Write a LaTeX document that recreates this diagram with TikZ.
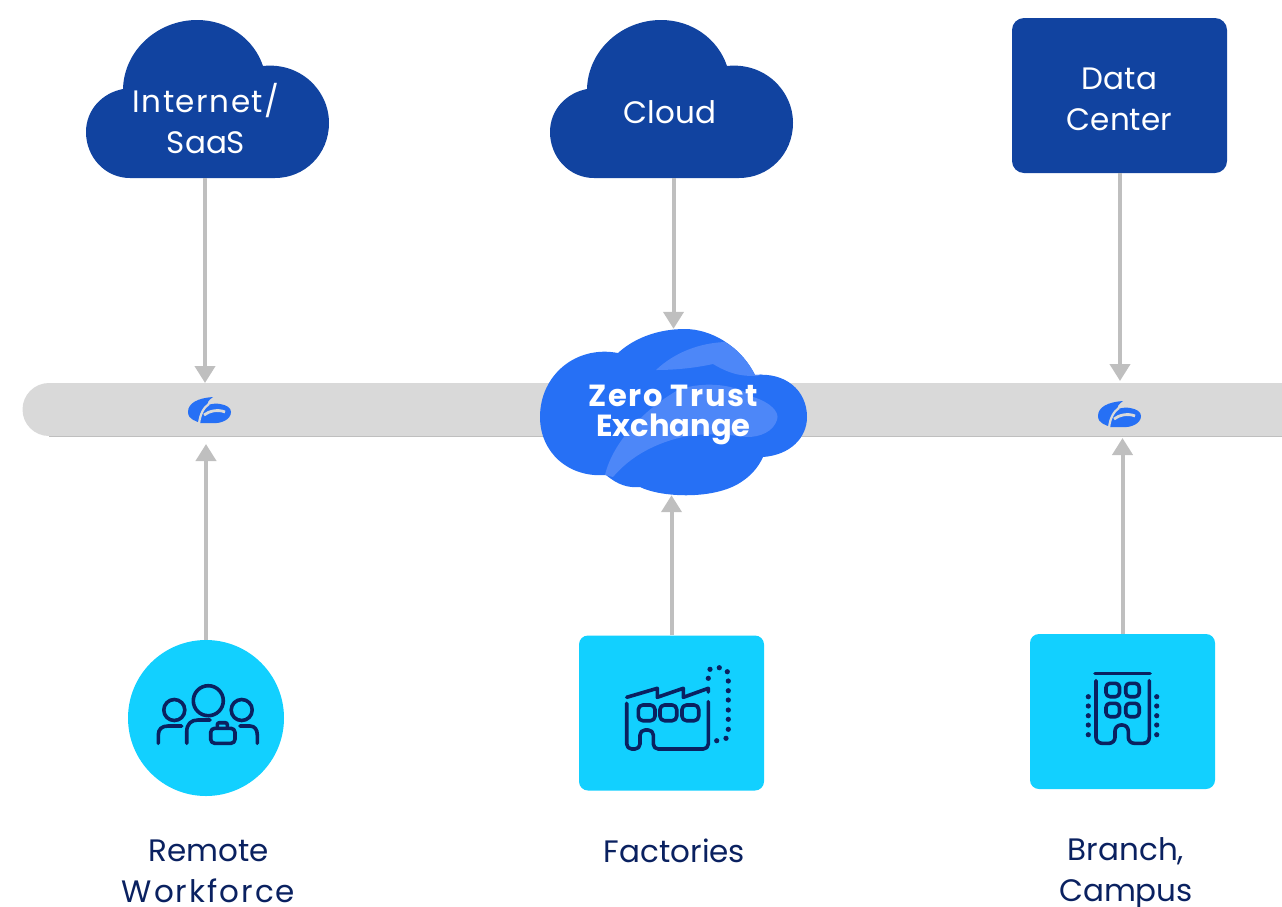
\documentclass[tikz,border=0pt]{standalone}
\usepackage{fontspec}
\setmainfont{Poppins}
\usetikzlibrary{arrows.meta}

\definecolor{skynavy}{HTML}{1143A0}
\definecolor{sitecyan}{HTML}{12D0FF}
\definecolor{hubblue}{HTML}{2670F5}
\definecolor{hublight}{HTML}{4D87F8}
\definecolor{bandgray}{HTML}{D9D9D9}
\definecolor{flowgray}{HTML}{BFBFBF}
\definecolor{inkblue}{HTML}{0A2160}

\tikzset{
    flowline/.style = {line width = 4pt, draw = flowgray, -{Triangle[width = 20pt, length = 17pt]}},
    skylabel/.style = {text = white, font = \fontsize{31}{41}\selectfont, align = center, inner sep = 0pt},
    sitelabel/.style = {text = inkblue, font = \fontsize{31}{41}\selectfont, align = center, inner sep = 0pt},
    sitebox/.style = {fill = sitecyan, rounded corners = 9pt, minimum width = 185pt, minimum height = 155pt, inner sep = 0pt},
    iconline/.style = {draw = inkblue, line width = 3.6pt, line cap = round, line join = round}
}

% Outline of the dark clouds, in the place of the left one
\newcommand{\skycloud}[1]{
    \fill[skynavy, shift = {(#1, 0)}] (130, 178) .. controls (105, 178) and (86, 157) .. (86, 132)
    .. controls (86, 110) and (102, 93) .. (123, 89) .. controls (124, 50) and (158, 20) .. (197, 20)
    .. controls (228, 20) and (254, 39) .. (263, 66) .. controls (300, 62) and (329, 90) .. (329, 123)
    .. controls (329, 154) and (305, 178) .. (275, 178) -- cycle;
}

% Small logo on the band
\newcommand{\hublogo}[2]{
    \begin{scope}[shift = {(#1, #2)}]
        \fill[hubblue] (-10, 12) .. controls (-13, 10) and (-22, 9) .. (-22, 1)
        .. controls (-22, -8) and (-12, -13) .. (3, -14) .. controls (-1, -11) and (-3, -9) .. (-3, -6)
        .. controls (2, -7) and (6, -8) .. (10, -7) .. controls (17, -6) and (21, -3) .. (21, 1)
        .. controls (21, 9) and (10, 13) .. (2, 12) -- cycle;
        \draw[bandgray, line width = 2.2pt] (-1, -7) .. controls (-6, -4) and (-10, 3) .. (-11, 13);
        \draw[bandgray, line width = 2.8pt] (-6, 4) .. controls (-1, 0) and (8, -2) .. (15, 1);
    \end{scope}
}

\newcommand{\zerocloud}{
    (618, 353) .. controls (576, 345) and (540, 375) .. (540, 417)
    .. controls (540, 452) and (568, 478) .. (606, 475) .. controls (618, 485) and (628, 488) .. (640, 487)
    .. controls (660, 497) and (710, 500) .. (738, 484) .. controls (750, 477) and (758, 468) .. (763, 457)
    .. controls (790, 455) and (807, 438) .. (807, 417) .. controls (807, 390) and (785, 372) .. (755, 375)
    .. controls (740, 345) and (710, 329) .. (685, 329) .. controls (655, 329) and (632, 340) .. (618, 353) -- cycle
}

\begin{document}
\begin{tikzpicture}[x = 1pt, y = -1pt]
    \useasboundingbox (0, 0) rectangle (1282, 906);

    % === Band ===
    \fill[bandgray] (1330, 383) -- (49, 383) arc (90: 270: 26.5pt) -- (1330, 436) -- cycle;
    \draw[flowgray, line width = 0.6pt] (49, 436) -- (1282, 436);

    % === Upper row ===
    \skycloud{0}
    \node[skylabel, minimum height = 118pt] (internet) at (206, 119)
    {\addfontfeature{LetterSpace = 5}Internet/\\SaaS};

    \skycloud{464}
    \node[skylabel, minimum height = 132pt] (cloud) at (670, 112) {Cloud};

    \node[fill = skynavy, rounded corners = 12pt, minimum width = 215pt, minimum height = 155pt, inner sep = 0pt]
    (datacenter) at (1119.5, 95.5) {};
    \node[skylabel] (datacenterlabel) at (1119.5, 99.5) {Data\\Center};

    % === Zero Trust Exchange ===
    \fill[hubblue] \zerocloud;
    \begin{scope}
        \clip \zerocloud;
        \fill[hublight] (656, 370) .. controls (675, 352) and (700, 343) .. (725, 342) -- (770, 372)
        -- (757, 376) .. controls (745, 376) and (733, 376) .. (713, 364) .. controls (695, 368) and (675, 370) .. (656, 370) -- cycle;
        \fill[hublight] (605, 475) .. controls (612, 445) and (640, 412) .. (678, 390)
        .. controls (705, 380) and (738, 385) .. (753, 397) .. controls (770, 402) and (780, 412) .. (777, 420)
        .. controls (773, 432) and (760, 437) .. (747, 437) .. controls (715, 433) and (690, 432) .. (660, 444)
        .. controls (640, 452) and (625, 463) .. (613, 477) -- cycle;
    \end{scope}
    \node[text = white, font = \fontsize{30.5}{30}\bfseries\selectfont, align = center, inner sep = 0pt,
    minimum width = 266pt, minimum height = 160pt] (zerotrust) at (673.5, 415)
    {{\addfontfeature{LetterSpace = 5}Zero Trust}\\Exchange};

    % === Logos on the band ===
    \node[minimum width = 44pt, minimum height = 27pt, inner sep = 0pt] (hubleft) at (210, 411) {};
    \hublogo{210}{411}
    \node[minimum width = 44pt, minimum height = 27pt, inner sep = 0pt] (hubright) at (1120, 415) {};
    \hublogo{1120}{415}

    % === Lower row ===
    \node[circle, fill = sitecyan, minimum size = 156pt, inner sep = 0pt] (remote) at (206, 718) {};
    \node[sitebox] (factories) at (671.5, 713) {};
    \node[sitebox] (branch) at (1122.5, 711.5) {};

    \node[sitelabel] (remotelabel) at (208.5, 871.5) {Remote\\{\addfontfeature{LetterSpace = 6.5}Workforce}};
    \node[sitelabel] (factorieslabel) at (674.5, 851) {Factories};
    \node[sitelabel] (branchlabel) at (1126, 874) {Branch,\\Campus};

    % === Arrows ===
    \coordinate (tipinternet) at (205, 383);
    \coordinate (tipdata) at (1120, 381);
    \coordinate (tipremote) at (206, 444);
    \coordinate (tipbranch) at (1122.5, 438);
    \draw[flowline] (tipinternet |- internet.south) -- (tipinternet);
    \draw[flowline] (cloud.south -| zerotrust.north) -- ([yshift = 6pt]zerotrust.north);
    \draw[flowline] (datacenter.south -| tipdata) -- (tipdata);
    \draw[flowline] (remote.north) -- (tipremote);
    \draw[flowline] (factories.north) -- (zerotrust.south -| factories.north);
    \draw[flowline] (branch.north) -- (tipbranch);

    % === Icons ===
    % People
    \draw[iconline] (208.3, 700.7) circle[radius = 15pt];
    \draw[iconline] (174.3, 710) circle[radius = 10.5pt];
    \draw[iconline] (241.7, 710) circle[radius = 10.5pt];
    \draw[iconline] (158.3, 743.3) -- (158.3, 735) .. controls (158.3, 729) and (162, 726) .. (168, 726) -- (181.7, 726);
    \draw[iconline] (186.7, 743.3) -- (186.7, 732) .. controls (186.7, 724) and (191, 720) .. (198, 720) -- (210, 720);
    \draw[iconline] (240, 726) -- (250, 726) .. controls (255, 726) and (257.3, 730) .. (257.3, 735) -- (257.3, 743.3);
    \draw[iconline, rounded corners = 4pt] (210.7, 728.3) rectangle (235, 743.3);
    \draw[iconline, rounded corners = 2pt] (217.3, 728) -- (217.3, 722.7) -- (227.3, 722.7) -- (227.3, 728);

    % Factory
    \draw[iconline] (626.7, 697.3) -- (657.3, 688.3) -- (657.3, 697.3) -- (683.3, 688.3) -- (683.3, 697.3)
    -- (708.3, 688.3) -- (708.3, 692);
    \draw[iconline, rounded corners = 5pt] (626.7, 703.3) -- (626.7, 749) -- (640, 749) -- (640, 730)
    -- (653.3, 730) -- (653.3, 749) -- (708.3, 749) -- (708.3, 701.7);
    \foreach \winx in {638.3, 660, 682}
        \draw[iconline, rounded corners = 4.5pt] (\winx, 705) rectangle (\winx + 16.7, 720.7);
    \foreach \dotx/\doty in {708.3/678.3, 710/669.3, 719.3/667.7, 727.3/671.7, 728.3/681, 728.3/690.7,
        728.3/700, 728.3/710, 728.3/719.3, 728.3/729.3, 726/738.3, 716.7/740.7}
        \fill[inkblue] (\dotx, \doty) circle[radius = 2.6pt];

    % Building
    \draw[iconline] (1095, 673.3) -- (1150, 673.3);
    \draw[iconline, rounded corners = 6pt] (1096, 680.7) -- (1096, 743.3) -- (1115, 743.3) -- (1115, 725)
    -- (1128.3, 725) -- (1128.3, 743.3) -- (1149.3, 743.3) -- (1149.3, 680.7);
    \foreach \winx in {1106, 1125.7}
        \foreach \winy in {683.3, 703.3}
            \draw[iconline, rounded corners = 4pt] (\winx, \winy) rectangle (\winx + 13.5, \winy + 13.4);
    \foreach \dotx in {1088.3, 1156.7}
        \foreach \doty in {696.7, 706, 715.7, 725, 734.7}
            \fill[inkblue] (\dotx, \doty) circle[radius = 2.6pt];
\end{tikzpicture}
\end{document}
